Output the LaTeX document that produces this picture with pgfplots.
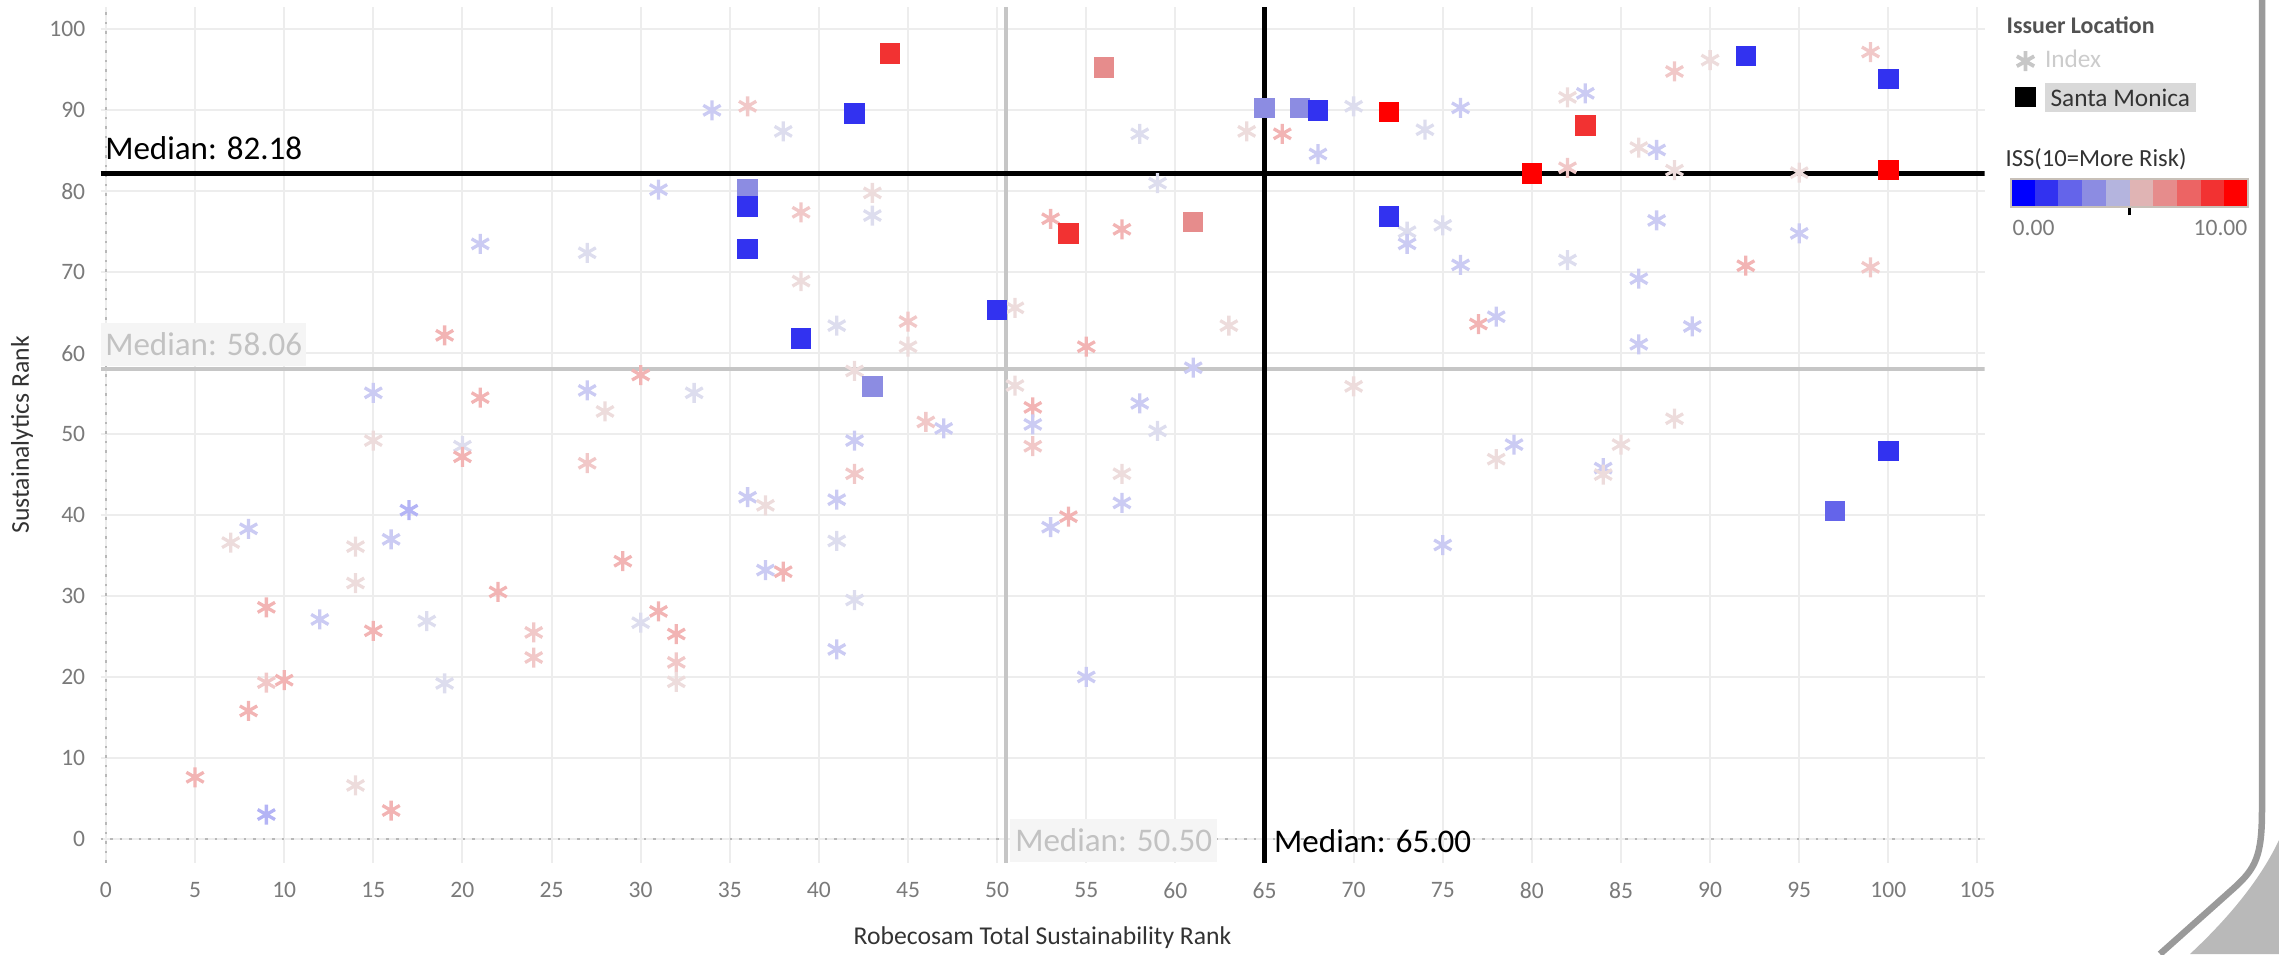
\documentclass[border=0pt]{standalone}
\usepackage{fontspec}
\setmainfont{Carlito}
\usepackage{pgfplots}
\pgfplotsset{compat=1.18}
\usepackage{pgfplotstable}
\definecolor{gridc}{HTML}{EDEDED}
\definecolor{tickc}{HTML}{7A7A7A}
\definecolor{titc}{HTML}{333333}
\definecolor{zeroc}{HTML}{B8B8B8}
\definecolor{medgray}{HTML}{C6C6C6}
\definecolor{medtxt}{HTML}{C2C2C2}
\definecolor{boxc}{HTML}{F5F5F5}
\definecolor{selc}{HTML}{D9D9D9}
\definecolor{bordc}{HTML}{C8C0B8}
\definecolor{framec}{HTML}{9A9A9A}
% asterisk (faded) colours
\definecolor{ca1}{HTML}{B4B4F5}
\definecolor{ca2}{HTML}{CBCBF3}
\definecolor{ca3}{HTML}{DDDDEE}
\definecolor{ca4}{HTML}{EDDCDC}
\definecolor{ca5}{HTML}{F1C8C8}
\definecolor{ca6}{HTML}{F2B4B4}
% ISS palette
\definecolor{k0}{HTML}{0000FF}
\definecolor{k1}{HTML}{3232F0}
\definecolor{k2}{HTML}{6464EA}
\definecolor{k3}{HTML}{8C8CE2}
\definecolor{k4}{HTML}{B4B4DE}
\definecolor{k5}{HTML}{E0B4B4}
\definecolor{k6}{HTML}{E68C8C}
\definecolor{k7}{HTML}{EC6464}
\definecolor{k8}{HTML}{F23232}
\definecolor{k9}{HTML}{FF0000}

\pgfplotstableread{
x y c
31 80.2 a2
21 73.5 a2
27 72.4 a3
19 62.2 a6
15 55.1 a2
21 54.5 a6
27 55.4 a2
28 52.8 a4
30 57.3 a6
33 55.1 a3
15 49.2 a4
20 48.5 a3
20 47.2 a6
27 46.4 a5
17 40.6 a1
8 38.3 a2
7 36.6 a4
14 36.1 a4
16 37.0 a2
14 31.6 a4
29 34.3 a6
22 30.5 a6
9 28.6 a6
12 27.1 a2
15 25.7 a6
18 26.9 a3
24 25.5 a5
24 22.4 a5
30 26.7 a3
31 28.1 a6
32 25.3 a6
32 21.8 a5
32 19.4 a4
9 19.3 a5
10 19.6 a6
19 19.2 a3
8 15.8 a6
5 7.6 a6
14 6.6 a4
9 3.0 a1
16 3.5 a6
34 90.0 a2
36 90.5 a5
38 87.4 a3
58 87.1 a3
64 87.4 a4
66 87.1 a6
68 84.6 a2
70 90.5 a3
59 81.0 a3
39 77.4 a5
43 79.8 a4
43 77.0 a3
39 68.9 a4
41 63.4 a3
45 63.9 a5
45 60.8 a4
51 65.6 a4
53 76.6 a6
57 75.3 a6
55 60.8 a6
63 63.4 a4
61 58.2 a2
42 57.8 a4
52 53.3 a6
52 51.2 a2
52 48.5 a5
58 53.8 a2
59 50.4 a3
46 51.5 a5
47 50.7 a2
42 49.2 a2
51 56.0 a4
70 55.9 a4
42 45.1 a5
57 45.1 a4
57 41.5 a2
36 42.2 a2
37 41.2 a4
41 41.9 a2
54 39.8 a6
53 38.5 a2
41 36.8 a3
37 33.2 a2
38 33.0 a6
42 29.5 a3
41 23.4 a2
55 20.0 a2
74 87.6 a3
76 90.3 a2
82 91.6 a4
83 92.1 a2
82 82.9 a5
86 85.4 a4
87 85.1 a2
88 82.6 a4
88 94.8 a5
90 96.2 a4
99 97.2 a5
95 82.3 a4
73 75.0 a3
73 73.5 a2
75 75.8 a3
76 70.9 a2
82 71.5 a3
87 76.4 a2
86 69.2 a2
95 74.8 a2
92 70.8 a6
99 70.6 a5
77 63.6 a6
78 64.5 a2
89 63.3 a2
86 61.1 a2
88 51.9 a4
78 46.9 a4
79 48.7 a2
84 45.8 a2
84 45.0 a4
85 48.7 a4
75 36.3 a2
}\indextab

\pgfplotstableread{
x y c
36 80.2 s3
65 90.3 s3
67 90.3 s3
43 55.9 s3
42 89.6 s1
36 78.1 s1
36 72.9 s1
39 61.8 s1
50 65.3 s1
68 90.0 s1
72 76.9 s1
92 96.7 s1
100 93.9 s1
100 47.9 s1
97 40.5 s2
56 95.3 s6
61 76.2 s6
44 97.0 s8
54 74.8 s8
83 88.1 s8
72 89.8 s9
80 82.2 s9
100 82.6 s9
}\smtab

\begin{document}
\begin{tikzpicture}
\path[use as bounding box] (0,0) rectangle (227.9mm,95.4mm);

% frame decoration
\fill[gray!55] (227.9mm,11.4mm) .. controls (226.3mm,8.0mm) and (223.5mm,4.2mm) .. (219.0mm,0mm) -- (227.9mm,0mm) -- cycle;
\draw[framec, line width=0.65mm] (226.2mm,95.4mm) -- (226.2mm,14.5mm) .. controls (226.2mm,9.8mm) and (225.6mm,8.6mm) .. (223.4mm,6.6mm) -- (216.0mm,0mm);

\begin{axis}[
  at={(10.06mm,9.13mm)}, anchor=south west,
  scale only axis, width=188.4mm, height=85.6mm,
  xmin=-0.3, xmax=105.4, ymin=-2.95, ymax=102.8,
  xtick={0,5,...,105}, ytick={0,10,...,100},
  grid=major, major grid style={draw=gridc, line width=0.2mm},
  axis line style={draw=none},
  major tick length=0pt,
  tick label style={font=\fontsize{6.7}{8}\selectfont, text=tickc},
  xticklabel style={yshift=-0.7mm},
  yticklabel style={xshift=-0.3mm},
  /pgf/number format/assume math mode=true,
  xlabel={Robecosam Total Sustainability Rank},
  ylabel={Sustainalytics Rank},
  label style={font=\fontsize{7.3}{9}\selectfont, text=titc},
  xlabel style={at={(axis description cs:0.5,-0.0877)}, anchor=center},
  ylabel style={at={(axis description cs:-0.0417,0.5)}, anchor=center},
  legend style={at={(axis description cs:1.0163,0.954)}, anchor=north west,
     draw=none, fill=none, font=\fontsize{7.2}{8.5}\selectfont,
     row sep=0.45mm, inner sep=0pt, nodes={inner sep=0.3mm},
     /tikz/every odd column/.append style={column sep=0.7mm}},
  legend cell align=left,
]
\addlegendimage{only marks, mark=asterisk, mark size=1mm, draw=black!22, line width=0.38mm}
\addlegendentry{\fontsize{7.2}{8.5}\selectfont\textcolor{black!20}{Index}}
\addlegendimage{only marks, mark=square*, mark size=0.95mm, black}
\addlegendentry{\fontsize{7.2}{8.5}\selectfont\setlength\fboxsep{0.55mm}\colorbox{selc}{\textcolor{titc}{Santa Monica}}}

% zero lines
\addplot[zeroc, dotted, line width=0.25mm, forget plot] coordinates {(-0.3,0) (105.4,0)};
\addplot[zeroc, dotted, line width=0.25mm, forget plot] coordinates {(0,-2.95) (0,102.8)};

% index constituents
\addplot[scatter, only marks, forget plot, scatter src=explicit symbolic,
  mark options={line width=0.33mm},
  scatter/classes={
    a1={mark=asterisk, mark size=1mm, ca1},
    a2={mark=asterisk, mark size=1mm, ca2},
    a3={mark=asterisk, mark size=1mm, ca3},
    a4={mark=asterisk, mark size=1mm, ca4},
    a5={mark=asterisk, mark size=1mm, ca5},
    a6={mark=asterisk, mark size=1mm, ca6}}]
  table[x=x, y=y, meta=c] {\indextab};

% Santa Monica holdings
\addplot[scatter, only marks, forget plot, scatter src=explicit symbolic,
  scatter/classes={
    s1={mark=square*, mark size=0.95mm, k1},
    s2={mark=square*, mark size=0.95mm, k2},
    s3={mark=square*, mark size=0.95mm, k3},
    s6={mark=square*, mark size=0.95mm, k6},
    s8={mark=square*, mark size=0.95mm, k8},
    s9={mark=square*, mark size=0.95mm, k9}}]
  table[x=x, y=y, meta=c] {\smtab};

% median reference lines
\addplot[medgray, line width=0.42mm, forget plot] coordinates {(-0.3,58.06) (105.4,58.06)};
\addplot[medgray, line width=0.42mm, forget plot] coordinates {(50.5,-2.95) (50.5,102.8)};
\addplot[black, line width=0.5mm, forget plot] coordinates {(-0.3,82.18) (105.4,82.18)};
\addplot[black, line width=0.5mm, forget plot] coordinates {(65,-2.95) (65,102.8)};

\node[anchor=base west, inner xsep=0.4mm, font=\fontsize{9.4}{11}\selectfont, text=black]
  at (axis cs:-0.3,82.18) [yshift=1.4mm] {Median: 82.18};
\node[anchor=south west, inner xsep=0.4mm, inner ysep=0pt, minimum height=4.3mm, fill=boxc,
  font=\fontsize{9.4}{11}\selectfont, text=medtxt]
  at (axis cs:-0.3,58.06) [yshift=0.25mm] {Median: 58.06};
\node[anchor=south west, inner xsep=0.5mm, inner ysep=0pt, minimum height=4.3mm, fill=boxc,
  font=\fontsize{9.4}{11}\selectfont, text=medtxt]
  at (axis cs:50.5,-2.95) [xshift=0.35mm] {Median: 50.50};
\node[anchor=west, inner xsep=0pt, font=\fontsize{9.4}{11}\selectfont, text=black]
  at (axis cs:65,-0.3) [xshift=0.9mm] {Median: 65.00};
\end{axis}

% legend titles
\node[anchor=west, inner sep=0pt, font=\bfseries\fontsize{6.8}{8}\selectfont, text=titc!85] at (200.6mm,92.9mm) {Issuer Location};
\node[anchor=west, inner sep=0pt, font=\fontsize{7}{8}\selectfont, text=titc] at (200.5mm,79.5mm) {ISS(10=More Risk)};
\node[anchor=west, inner sep=0pt, font=\fontsize{6.7}{8}\selectfont, text=tickc] at (201.2mm,72.6mm) {0.00};
\node[anchor=east, inner sep=0pt, font=\fontsize{6.7}{8}\selectfont, text=tickc] at (224.8mm,72.6mm) {10.00};

% colour scale
\begin{axis}[
  at={(201.1mm,74.7mm)}, anchor=south west,
  scale only axis, width=23.7mm, height=2.8mm,
  xmin=0, xmax=10, ymin=0, ymax=1,
  ticks=none, axis line style={draw=bordc, line width=0.15mm},
  clip=false, axis on top,
]
\addplot[fill=k0, draw=none] coordinates {(0,0) (1,0) (1,1) (0,1)} --cycle;
\addplot[fill=k1, draw=none] coordinates {(1,0) (2,0) (2,1) (1,1)} --cycle;
\addplot[fill=k2, draw=none] coordinates {(2,0) (3,0) (3,1) (2,1)} --cycle;
\addplot[fill=k3, draw=none] coordinates {(3,0) (4,0) (4,1) (3,1)} --cycle;
\addplot[fill=k4, draw=none] coordinates {(4,0) (5,0) (5,1) (4,1)} --cycle;
\addplot[fill=k5, draw=none] coordinates {(5,0) (6,0) (6,1) (5,1)} --cycle;
\addplot[fill=k6, draw=none] coordinates {(6,0) (7,0) (7,1) (6,1)} --cycle;
\addplot[fill=k7, draw=none] coordinates {(7,0) (8,0) (8,1) (7,1)} --cycle;
\addplot[fill=k8, draw=none] coordinates {(8,0) (9,0) (9,1) (8,1)} --cycle;
\addplot[fill=k9, draw=none] coordinates {(9,0) (10,0) (10,1) (9,1)} --cycle;
\addplot[black, line width=0.3mm] coordinates {(5.0,-0.3) (5.0,0.05)};
\end{axis}
\end{tikzpicture}
\end{document}
